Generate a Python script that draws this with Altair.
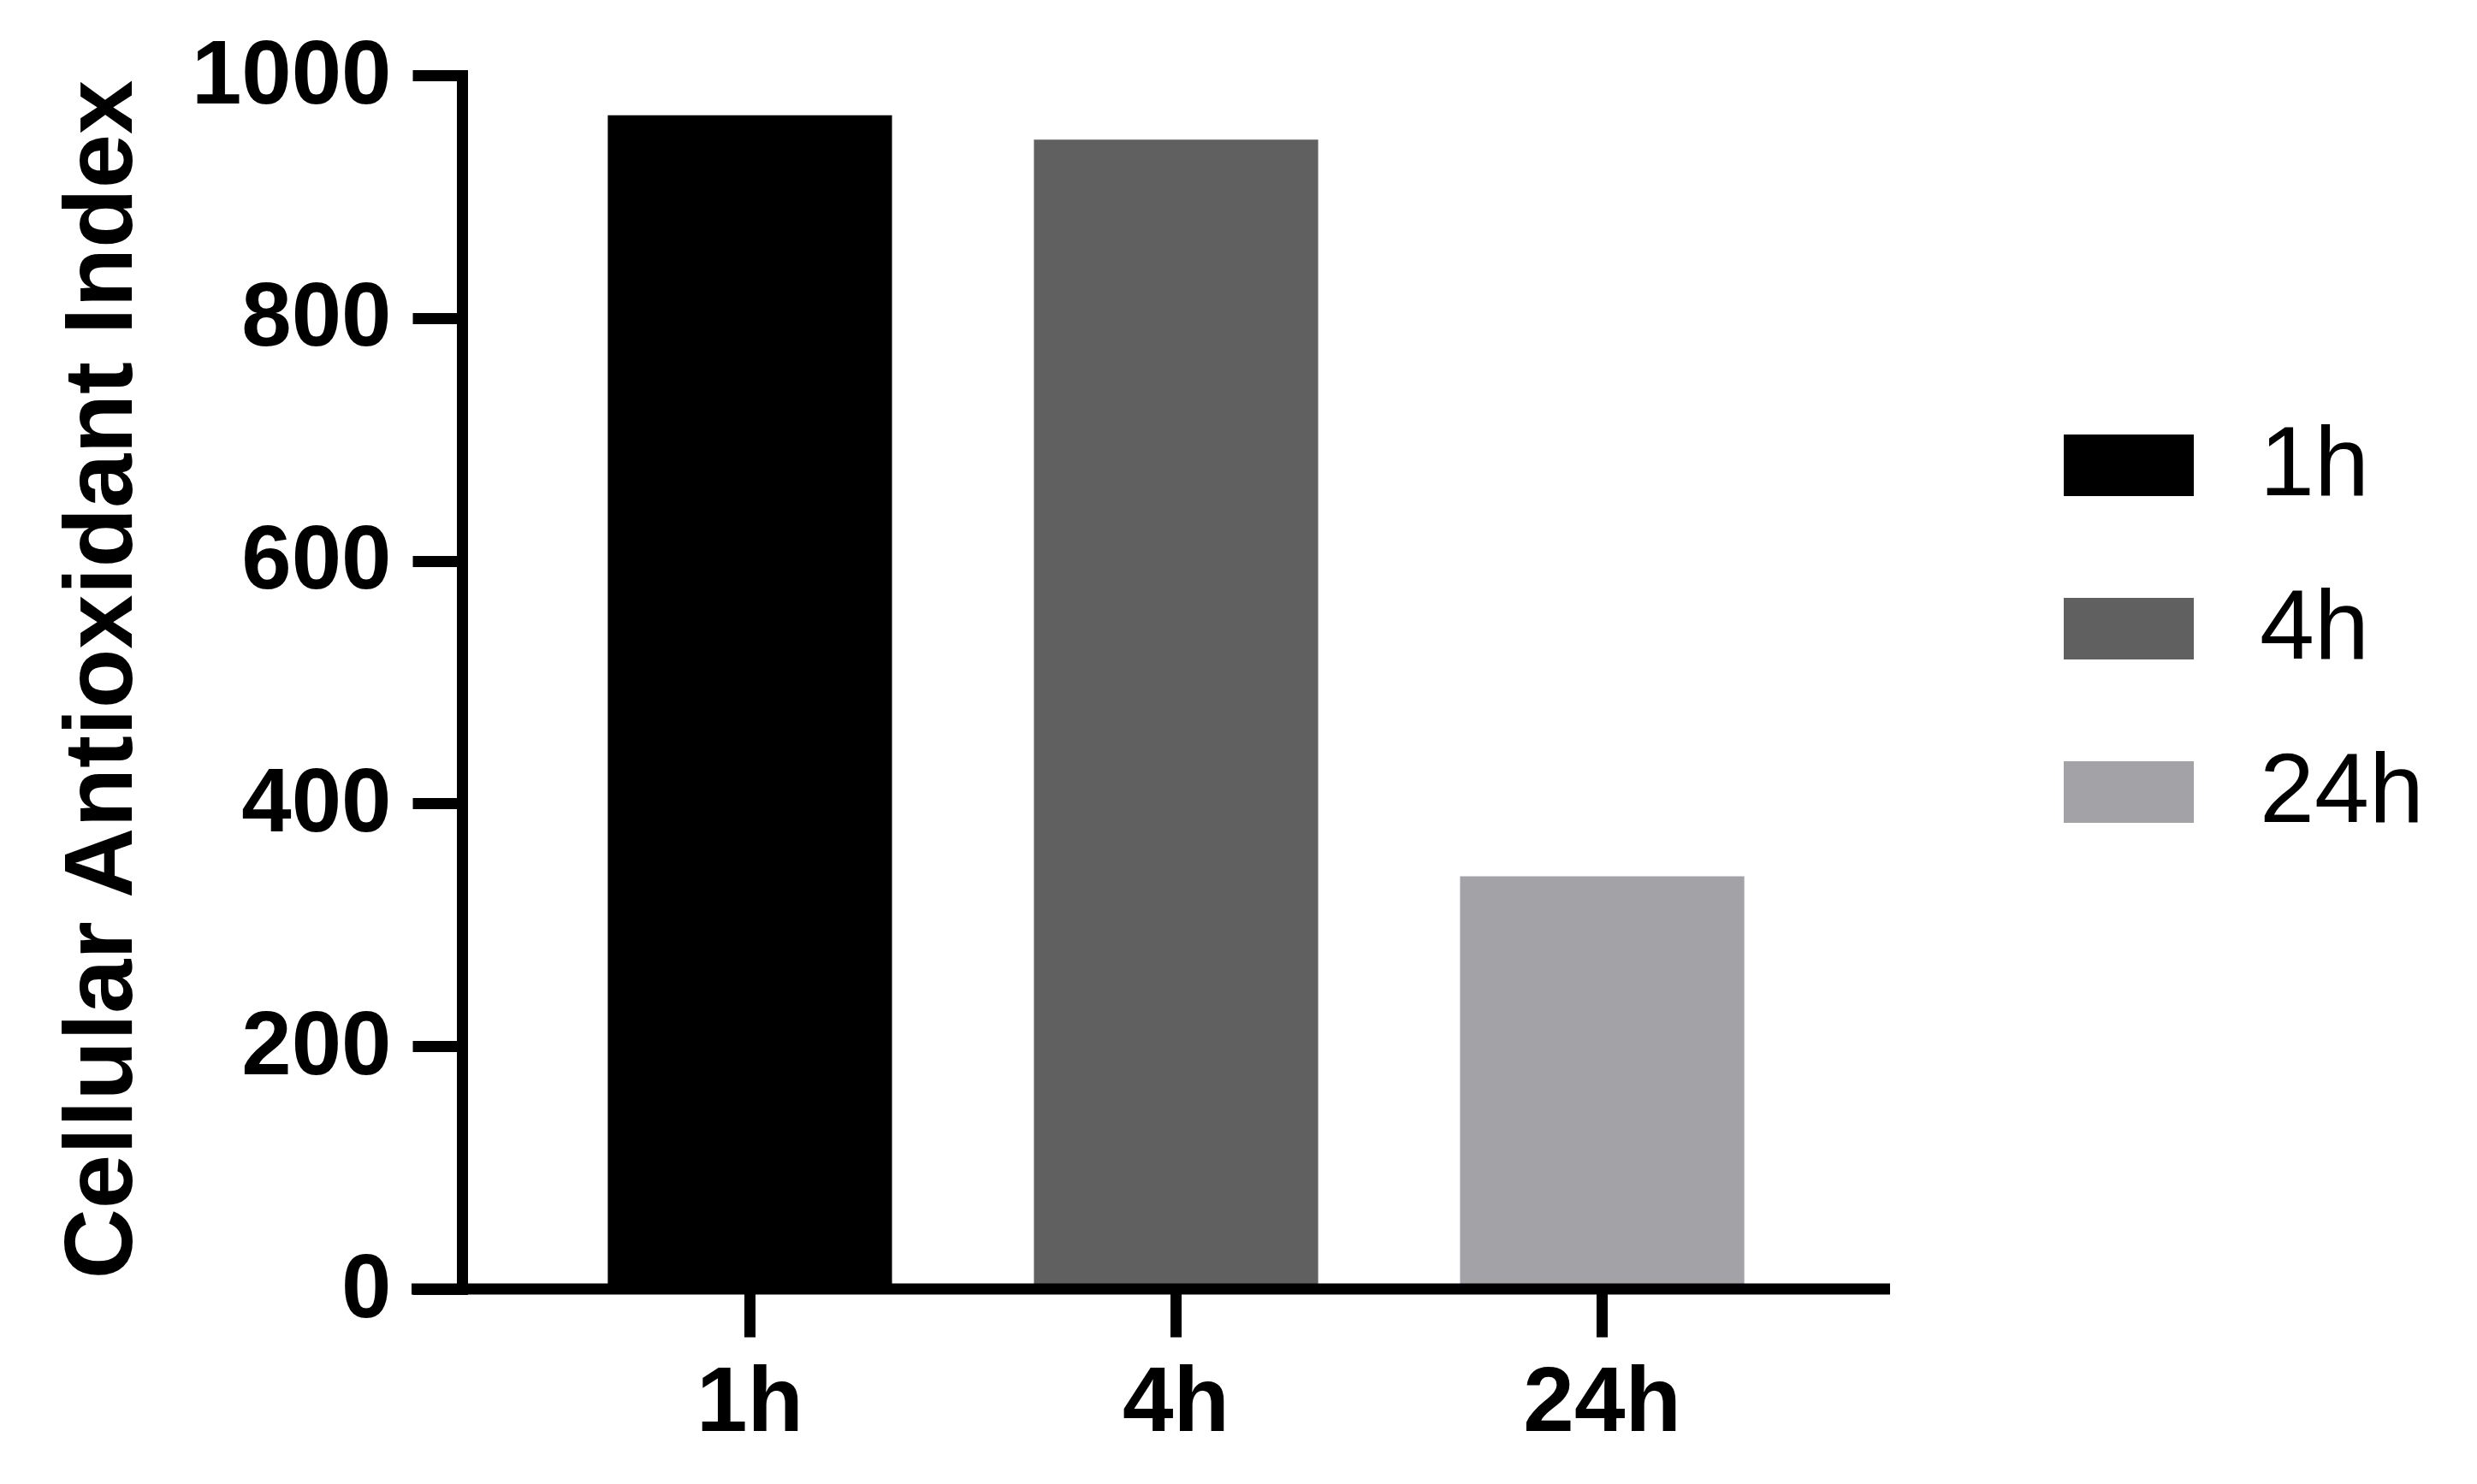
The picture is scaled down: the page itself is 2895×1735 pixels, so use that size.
import altair as alt
import pandas as pd

categories = ["1h", "4h", "24h"]
values = [967, 947, 340]
colors = ["#000000", "#606060", "#a3a2a7"]
y_ticks = [0, 200, 400, 600, 800, 1000]
y_title = "Cellular Antioxidant Index"

df = pd.DataFrame({"time": categories, "value": values})
base_df = pd.DataFrame({"v": [0]})

W, H = 1669, 1419
FONT = "Liberation Sans"

bars = alt.Chart(df).mark_bar(strokeWidth=0).encode(
    x=alt.X(
        "time:N",
        sort=categories,
        scale=alt.Scale(paddingInner=0.333, paddingOuter=0.342),
        axis=alt.Axis(
            title=None, domain=False, labelAngle=0, ticks=True, tickSize=56,
            tickWidth=13, tickColor="black", labelFont=FONT, labelFontSize=107,
            labelFontWeight="bold", labelColor="black", labelPadding=24, grid=False,
            labelLimit=0,
        ),
    ),
    y=alt.Y(
        "value:Q",
        scale=alt.Scale(domain=[0, 1000], nice=False),
        axis=alt.Axis(
            title=y_title, values=y_ticks, format="d", domain=True,
            domainColor="black", domainWidth=13, domainCap="square", tickSize=58,
            tickWidth=13, tickColor="black", labelFont=FONT, labelFontSize=105,
            labelFontWeight="bold", labelColor="black", labelPadding=25,
            labelLimit=0, grid=False, titleFont=FONT, titleFontSize=114,
            titleFontWeight="bold", titleColor="black", titleX=-387, titleY=706,
            titleAngle=270, titleBaseline="alphabetic", titleAlign="center",
            titleLimit=0,
        ),
    ),
    color=alt.Color(
        "time:N",
        sort=categories,
        scale=alt.Scale(domain=categories, range=colors),
        legend=alt.Legend(
            title=None, orient="none", legendX=1872, legendY=380,
            symbolType="M-1,-0.4737H1V0.4737H-1Z", symbolSize=23104,
            symbolStrokeWidth=0, symbolOpacity=1, labelFont=FONT,
            labelFontSize=115, labelColor="black", labelOffset=77,
            labelLimit=0, rowPadding=57, padding=0,
        ),
    ),
)

baseline = alt.Chart(base_df).mark_rule(color="black", strokeWidth=13).encode(
    y=alt.datum(0), x=alt.value(-59), x2=alt.value(W)
)

chart = alt.layer(bars, baseline).properties(
    width=W, height=H,
    autosize=alt.AutoSizeParams(type="none"),
    padding={"left": 532, "top": 80, "right": 670, "bottom": 210},
    background="white",
).configure_view(stroke=None)

chart.save("out.html", embed_options={"renderer": "svg", "actions": False})
